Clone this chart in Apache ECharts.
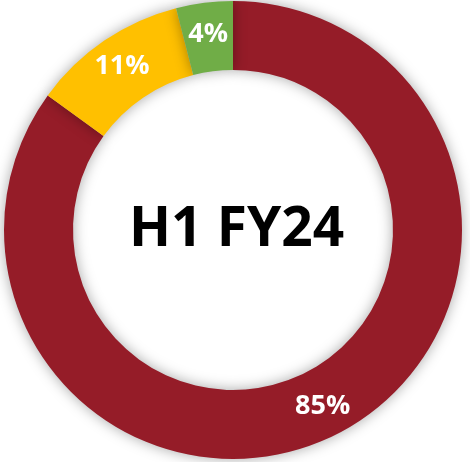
<!DOCTYPE html>
<html lang="en">
<head>
  <meta charset="UTF-8">
  <title>H1 FY24</title>
  <script src="https://cdn.jsdelivr.net/npm/echarts@6/dist/echarts.min.js"></script>
  <style>
    html, body { margin: 0; padding: 0; background: #fff; }
    #main { width: 470px; height: 462px; }
  </style>
</head>
<body>
<div id="main"></div>
<script>
  // shares, clockwise from 12 o'clock
  var names = ["A", "B", "C"];
  var values = [85, 11, 4];
  var colors = ["#951C28", "#FFC000", "#70AD47"];
  var centerText = "H1 FY24";

  var chart = echarts.init(document.getElementById('main'));
  var data = [];
  for (var i = 0; i < values.length; i++) {
    data.push({ name: names[i], value: values[i], itemStyle: { color: colors[i] } });
  }

  chart.setOption({
    animation: false,
    graphic: [{
      type: 'text',
      left: 129,
      top: 203,
      style: {
        text: centerText,
        fill: '#000',
        font: 'bold 55px "Open Sans"',
        textAlign: 'left',
        textVerticalAlign: 'top'
      }
    }],
    series: [{
      type: 'pie',
      center: [233, 230],
      radius: [160, 229],
      startAngle: 90,
      clockwise: true,
      avoidLabelOverlap: false,
      itemStyle: {
        shadowBlur: 14,
        shadowColor: 'rgba(0,0,0,0.35)'
      },
      label: {
        show: true,
        position: 'inside',
        formatter: '{c}%',
        color: '#fff',
        fontFamily: 'Open Sans',
        fontWeight: 'bold',
        fontSize: 27
      },
      labelLine: { show: false },
      emphasis: { disabled: true },
      data: data
    }]
  });
</script>
</body>
</html>
